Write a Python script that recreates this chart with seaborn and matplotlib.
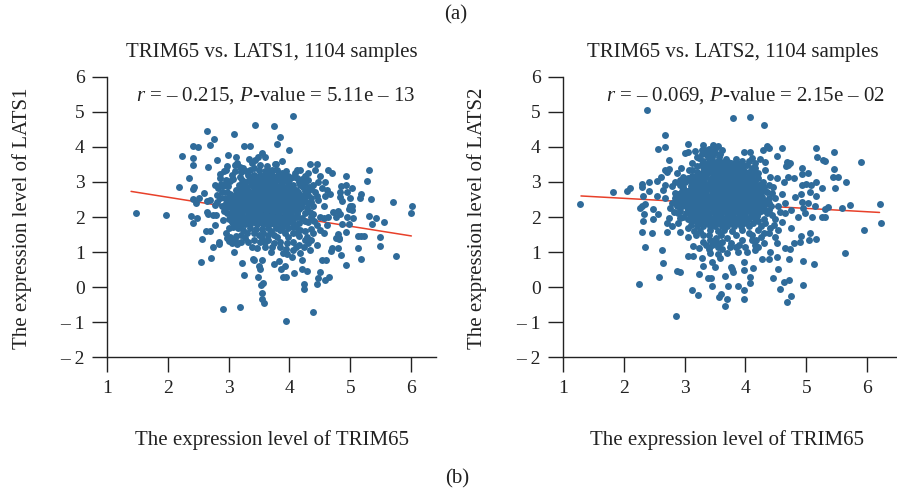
import matplotlib
matplotlib.use("Agg")
import matplotlib.pyplot as plt
import seaborn as sns
import pandas as pd

sns.set_style("ticks")
plt.rcParams["font.family"] = ["Liberation Serif", "DejaVu Serif"]
plt.rcParams["mathtext.fontset"] = "custom"
plt.rcParams["mathtext.it"] = "Liberation Serif:italic"
plt.rcParams["mathtext.rm"] = "Liberation Serif"

DOT = "#2f6b9a"
LINE = "#e8402a"

x_ticks = [1, 2, 3, 4, 5, 6]
y_ticks = [-2, -1, 0, 1, 2, 3, 4, 5, 6]
y_tick_labels = ["– 2", "– 1", "0", "1", "2", "3", "4", "5", "6"]

# (TRIM65, LATS1) estimated sample positions
lats1_outer = [
    (1.48,2.12),(1.97,2.06),(4.06,4.89),(3.43,4.62),(3.74,4.60),(2.64,4.44),(3.09,4.37),(2.76,4.23),
    (3.85,4.27),(3.80,4.08),(2.41,4.03),(2.50,4.00),(2.70,4.05),(3.25,4.01),(3.36,4.03),(3.99,3.91),
    (2.23,3.74),(2.42,3.67),(2.41,3.48),(2.99,3.78),(3.12,3.71),(2.81,3.62),(2.66,3.42),(3.55,3.82),
    (2.55,0.71),(2.71,0.84),(2.91,-0.63),(3.19,-0.56),(4.39,-0.72),(3.94,-0.97),(3.55,-0.18),(3.55,-0.34),
    (3.58,-0.44),(3.53,0.06),(3.57,0.13),(3.48,0.29),(3.25,0.35),(3.22,0.69),(3.40,0.79),(3.42,0.78),
    (3.55,0.78),(3.50,0.61),(3.51,0.53),(3.74,0.67),(3.82,0.75),(3.92,0.60),(3.86,0.53),(3.89,0.29),
    (3.94,0.30),(4.08,0.40),(4.21,0.78),(4.21,0.51),(4.28,0.46),(4.23,0.10),(4.24,-0.05),(4.45,0.09),
    (4.46,0.27),(4.50,0.43),(4.58,0.20),(4.65,0.30),(4.54,0.77),(4.60,0.77),(4.93,0.62),(4.85,0.93),
    (5.17,0.80),(5.12,1.11),(5.75,0.89),(5.49,1.17),(5.48,1.44),(5.13,1.47),(5.17,1.45),(5.22,1.46),
    (4.80,1.13),(4.68,1.03),(4.70,1.13),(4.92,1.57),(5.55,1.86),(5.42,1.96),(5.36,1.81),(5.30,2.04),
    (5.70,2.43),(6.00,2.12),(6.01,2.31),(5.33,2.52),(5.15,2.53),(5.17,2.65),(5.28,3.04),(5.31,3.35),
    (4.93,3.17),(4.70,3.26),(4.63,3.34),(5.02,2.83),(4.93,2.91),(4.84,2.89),(5.00,2.53),
    (5.03,2.31),(4.99,2.31),(4.97,2.22),(5.03,2.20),(4.94,2.01),(5.04,1.96),(4.97,1.80),(4.87,1.80),
    (4.79,2.17),(4.72,2.14),(4.83,2.08),(4.76,2.01),(4.83,2.70),(4.94,2.70),(4.83,2.58),(4.86,2.47),
    (4.79,1.52),(4.81,1.41),(4.76,1.39),(4.82,1.36),
    (2.86,3.23),(2.93,3.30),(2.97,3.44),(2.95,3.35),(3.11,3.48),(3.14,3.53),(3.18,3.42),(3.24,3.39),
    (3.33,3.65),(3.38,3.53),(3.44,3.62),(3.52,3.48),(3.63,3.46),(3.76,3.51),(3.71,3.34),(3.87,3.25),
    (3.98,3.17),(4.12,3.34),(4.17,3.34),(4.09,3.25),(4.25,3.17),(4.31,3.25),(4.42,3.34),(4.50,3.17),
    (4.34,3.51),(4.45,3.50),(3.48,3.70),(3.60,3.70),(3.88,3.60),(3.78,3.50),(3.42,3.40),(3.60,3.30),
    (4.17,2.91),(4.25,2.96),(4.39,2.91),(4.47,3.01),(4.58,3.01),(4.53,2.82),(4.61,2.77),(4.67,2.66),
    (4.58,2.60),(4.42,2.72),(4.31,2.63),(4.20,2.53),(4.36,2.44),(4.47,2.48),(4.57,2.30),(4.28,2.25),
    (4.39,2.09),(4.50,2.01),(4.64,2.01),(4.56,1.96),(4.61,1.77),(4.45,1.77),(4.31,1.87),(4.20,1.96),
    (4.30,3.05),(4.35,2.80),(4.25,2.75),(4.45,2.60),(4.30,2.40),(4.25,2.10),(4.35,2.00),(4.40,1.90),
    (4.17,1.63),(4.28,1.44),(4.39,1.53),(4.50,1.63),(4.57,1.55),(4.45,1.20),(4.34,1.06),(4.24,1.15),
    (4.15,1.20),(4.17,0.97),(4.04,0.87),(3.96,0.95),(3.89,0.97),(4.06,1.06),(3.96,1.25),(3.85,1.15),
    (3.69,1.01),(3.60,1.15),(3.46,1.11),(3.39,1.15),(3.52,1.30),(3.65,1.34),(3.79,1.44),(3.93,1.53),
    (4.06,1.53),(3.57,1.53),(3.41,1.53),(3.27,1.39),(3.14,1.23),(3.09,1.00),(3.00,1.33),(2.84,1.30),
    (2.74,1.15),(2.57,1.38),(2.63,1.59),(2.70,1.59),(2.78,1.77),(2.96,1.53),(3.03,1.44),(3.16,1.68),
    (3.24,1.63),(2.91,1.92),(3.05,1.87),(3.45,1.65),(3.70,1.60),(3.85,1.62),(4.05,1.72),(4.15,1.45),
    (3.75,1.25),(3.55,1.40),(3.32,1.30),(4.05,1.30),(4.30,1.25),(3.05,1.25),(2.98,1.40),(2.85,1.22),
    (2.41,1.82),(2.39,2.04),(2.49,1.97),(2.64,2.15),(2.67,2.09),(2.75,2.07),(2.79,2.07),(2.78,2.35),
    (2.70,2.49),(2.65,2.47),(2.81,2.44),(2.78,2.91),(2.83,2.82),(2.91,2.87),(2.99,2.87),(2.81,2.63),
    (2.94,2.53),(3.02,2.53),(2.89,2.30),(2.97,2.11),(3.05,2.25),(2.86,3.10),(2.96,3.06),(3.05,3.20),
    (3.19,3.15),(2.35,3.10),(2.18,2.86),(2.43,2.85),(2.41,2.79),(2.59,2.68),(2.51,2.53),(2.41,2.50),(2.46,2.41),
]
lats1_mid = [
    (2.88,2.95),(2.95,2.98),(3.02,3.02),(3.08,3.08),(2.90,2.72),(2.98,2.70),(3.02,2.65),(2.86,2.55),
    (2.95,2.40),(3.00,2.36),(2.92,2.18),(2.98,2.28),(3.02,2.10),(3.05,2.00),(3.00,1.95),(3.10,1.90),
    (3.12,1.80),(3.20,1.76),(3.08,1.72),(3.00,1.68),(3.10,3.30),(3.20,3.28),(3.28,3.32),(3.35,3.35),
    (3.50,3.33),(3.68,3.30),(3.80,3.35),(3.95,3.30),(4.05,3.15),(4.12,3.10),(4.20,3.08),(4.15,3.00),
    (4.22,2.85),(4.28,2.70),(4.32,2.85),(4.25,2.60),(4.35,2.55),(4.25,2.45),(4.38,2.30),(4.33,2.15),
    (4.25,1.88),(4.15,1.82),(4.05,1.85),(4.10,1.72),(3.98,1.68),(3.88,1.70),(3.78,1.68),(3.65,1.68),
    (3.55,1.65),(3.35,1.68),(3.30,1.55),(3.50,1.50),(3.65,1.48),(3.75,1.50),(3.98,1.42),(4.12,1.55),
    (4.25,1.60),(4.35,1.65),(3.20,1.50),(3.12,1.45),(3.10,1.35),(3.20,1.30),(3.42,1.35),(3.60,1.28),
    (3.72,1.15),(3.85,1.30),(3.95,1.10),(4.10,1.15),(4.25,1.35),(4.35,1.35),
]
lats1_core = {
    1.80: [3.27,3.36,3.47,3.56,3.66,3.75,3.86,3.95],
    1.87: [3.22,3.31,3.42,3.51,3.61,3.71,3.81,3.91,4.00],
    1.94: [3.17,3.26,3.37,3.46,3.57,3.66,3.77,3.86,3.97,4.05],
    2.01: [3.14,3.24,3.34,3.44,3.54,3.64,3.74,3.84,3.94,4.04,4.12],
    2.08: [3.11,3.21,3.32,3.41,3.52,3.61,3.72,3.81,3.92,4.01,4.12],
    2.15: [3.12,3.22,3.32,3.42,3.52,3.62,3.72,3.82,3.92,4.02,4.12],
    2.22: [3.08,3.17,3.27,3.36,3.47,3.56,3.67,3.76,3.87,3.96,4.07,4.16],
    2.29: [3.10,3.20,3.30,3.40,3.50,3.60,3.70,3.80,3.90,4.00,4.10,4.19],
    2.36: [3.05,3.14,3.24,3.33,3.44,3.53,3.64,3.73,3.84,3.93,4.04,4.13,4.21],
    2.43: [3.10,3.20,3.30,3.40,3.50,3.60,3.70,3.80,3.90,4.00,4.10,4.19],
    2.50: [3.07,3.18,3.27,3.38,3.47,3.58,3.67,3.78,3.87,3.98,4.07,4.18],
    2.57: [3.12,3.22,3.33,3.43,3.53,3.63,3.73,3.83,3.93,4.03,4.13],
    2.64: [3.10,3.19,3.30,3.39,3.50,3.59,3.70,3.79,3.90,3.99,4.10,4.17],
    2.71: [3.15,3.26,3.36,3.46,3.56,3.66,3.76,3.86,3.96,4.06,4.14],
    2.78: [3.12,3.22,3.31,3.42,3.51,3.62,3.71,3.82,3.91,4.02,4.10],
    2.85: [3.20,3.30,3.41,3.51,3.61,3.71,3.81,3.91,4.01],
    2.92: [3.17,3.26,3.37,3.46,3.57,3.66,3.77,3.86,3.97,4.05],
    2.99: [3.27,3.37,3.47,3.57,3.67,3.77,3.87,3.97],
    3.06: [3.22,3.33,3.42,3.53,3.62,3.73,3.82,3.93,4.00],
    3.13: [3.37,3.47,3.57,3.67,3.77,3.87],
    3.20: [3.32,3.41,3.52,3.61,3.72,3.81,3.90],
}

# (TRIM65, LATS2) estimated sample positions
lats2_outer = [
    (1.29,2.38),(1.83,2.71),(2.05,2.75),(2.10,2.82),(2.39,5.04),(3.80,4.83),(4.08,4.86),(4.30,4.61),
    (2.68,4.34),(2.56,3.93),(2.68,3.99),(3.05,4.09),(3.31,4.05),(3.01,3.82),(3.06,3.84),(2.75,3.63),
    (2.75,3.38),(2.71,3.29),(2.68,3.34),(2.61,3.13),(2.55,3.03),(2.42,3.01),(2.30,2.94),(2.30,2.85),
    (2.41,2.75),(2.31,2.60),(2.55,2.60),(2.35,2.37),(2.30,2.30),(2.27,2.27),(2.34,2.08),(2.31,1.90),
    (2.30,1.56),(2.46,1.54),(2.35,1.14),(2.71,1.56),(2.63,1.06),(2.64,0.69),(2.58,0.28),(2.25,0.10),
    (2.86,-0.81),(2.87,0.46),(2.93,0.43),(3.12,-0.08),(3.22,-0.21),(3.23,0.38),(3.38,0.27),(3.43,0.27),
    (3.45,0.02),(3.60,-0.19),(3.57,-0.29),(3.70,-0.34),(3.67,-0.55),(3.98,-0.33),(3.98,-0.09),(3.88,0.04),
    (3.72,0.04),(3.67,0.32),(4.08,0.13),(4.08,0.29),(4.12,0.55),(3.97,0.48),(3.80,0.44),(3.77,0.58),
    (3.78,0.51),(4.45,0.25),(4.53,0.52),(4.63,0.16),(4.71,0.19),(4.57,-0.04),(4.75,-0.25),(4.68,-0.43),
    (4.95,0.05),(5.13,0.65),(4.95,0.74),(4.72,0.81),(5.63,0.96),(5.94,1.62),(6.22,1.83),(6.21,2.37),
    (5.72,2.33),(5.58,2.26),(5.36,2.28),(5.31,2.23),(5.25,1.99),(5.31,2.01),(5.65,2.99),(5.52,3.15),
    (5.43,3.15),(5.45,3.36),(5.47,2.84),(5.26,2.84),(5.16,2.99),(5.89,3.57),(5.45,3.86),(5.15,3.96),
    (5.17,3.72),(5.28,3.62),(5.31,3.60),(4.92,3.39),(5.02,3.25),(4.93,3.23),(4.60,3.98),(4.51,3.74),
    (4.35,4.03),(4.38,3.96),(4.28,3.91),(3.98,3.84),(4.08,3.84),(4.10,3.67),
    (4.68,3.58),(4.73,3.55),(4.66,3.44),(4.69,3.47),(4.70,3.15),(4.80,3.12),(4.51,3.10),(4.64,3.01),
    (4.92,2.90),(4.99,2.94),(5.07,2.92),(5.06,2.71),(5.15,2.61),(4.91,2.66),(4.81,2.56),(4.92,2.44),
    (5.03,2.41),(5.14,2.31),(4.95,2.25),(4.98,2.11),(4.87,2.01),(5.09,2.01),(4.75,2.20),(4.65,2.11),
    (4.60,1.87),(4.75,1.68),(4.53,1.63),(4.91,1.46),(5.06,1.53),(5.04,1.34),(5.15,1.37),(4.89,1.30),
    (4.80,1.27),(4.65,1.13),(4.73,1.09),(4.49,1.44),(4.52,1.25),(4.41,1.01),(4.52,0.87),(4.38,0.80),
    (4.27,0.81),(4.30,1.25),(4.18,1.34),(4.30,1.53),(4.38,1.53),(4.46,1.77),(4.32,1.82),(4.21,1.63),
    (4.10,1.34),(4.02,1.01),(3.97,0.73),(3.88,1.01),(3.94,1.34),(3.77,1.25),(3.69,0.98),(3.58,0.82),
    (3.50,0.58),(3.45,0.73),(3.31,0.61),(3.28,0.82),(3.14,0.89),(3.06,0.89),(3.23,1.11),(3.14,1.18),
    (3.31,1.30),(3.42,0.98),(3.55,1.15),(3.52,1.39),(3.36,1.20),(3.06,1.44),(3.18,1.49),(2.93,1.56),
    (2.79,1.75),(2.71,1.82),(2.90,1.84),(3.06,1.68),(3.40,1.50),(3.60,1.50),(3.70,1.40),(3.85,1.50),
    (4.05,1.55),(3.50,1.25),(3.62,1.10),(3.40,1.10),(3.55,0.95),(3.85,1.15),(4.15,1.05),(4.20,1.15),
    (2.49,1.94),(2.57,2.09),(2.49,2.22),(2.74,1.96),(2.76,2.25),(2.82,2.15),(2.79,2.39),(2.68,2.53),
    (2.64,2.77),(2.68,2.91),(2.79,2.87),(2.85,2.68),(2.93,2.53),(2.93,2.91),(2.87,3.25),(2.94,3.39),
    (2.98,3.15),(2.90,2.11),(2.98,2.01),(2.96,2.30),(3.08,3.34),(2.92,1.98),(2.88,2.45),(2.95,2.75),
    (3.17,3.87),(3.23,3.68),(3.34,3.91),(3.47,4.05),(3.55,4.01),(3.61,3.91),(3.50,3.82),(3.39,3.72),
    (3.66,3.48),(3.77,3.53),(3.94,3.44),(4.02,3.49),(4.16,3.39),(4.24,3.65),(4.32,3.58),(4.21,3.25),
    (4.32,3.34),(4.29,3.01),(4.38,2.91),(4.43,2.68),(4.27,2.58),(4.38,2.39),(4.49,2.53),(4.54,2.30),
    (4.65,2.39),(4.43,2.06),(4.57,2.15),(3.28,3.80),(3.42,3.85),(3.30,3.60),(3.45,3.60),(3.56,3.70),
    (3.68,3.65),(4.40,3.15),(4.45,2.85),(4.60,2.65),(4.38,2.20),(4.48,1.95),(4.30,1.95),(4.35,2.70),
]
lats2_mid = [
    (2.85,3.00),(2.92,3.05),(3.00,3.00),(3.05,3.10),(2.98,2.85),(3.02,2.75),(2.90,2.65),(2.97,2.60),
    (2.85,2.55),(2.95,2.45),(2.88,2.30),(2.92,2.18),(3.02,2.10),(3.05,1.95),(3.12,1.90),(3.20,1.75),
    (3.10,1.78),(3.15,1.60),(3.25,1.60),(3.30,1.50),(3.42,1.62),(3.55,1.60),(3.65,1.62),(3.78,1.60),
    (3.95,1.62),(4.05,1.75),(4.12,1.82),(4.20,1.88),(4.25,1.75),(4.35,2.10),(4.30,2.20),(4.42,2.30),
    (4.38,2.55),(4.33,2.45),(4.32,2.75),(4.30,2.85),(4.25,2.95),(4.20,3.10),(4.15,3.25),(4.10,3.40),
    (3.85,3.65),(3.95,3.60),(4.05,3.60),(4.15,3.55),(3.20,3.45),(3.12,3.55),(3.20,3.70),(3.12,3.35),
    (3.28,3.50),(3.45,3.72),(3.58,3.80),(3.35,3.80),(3.28,3.92),(3.40,3.95),(3.50,3.95),(3.12,3.18),
    (3.50,1.35),(3.62,1.30),(3.75,1.15),(3.58,1.25),(3.42,1.35),(3.45,1.20),(3.90,1.20),(4.00,1.15),
    (4.15,1.20),(4.25,1.42),(4.40,1.70),(4.10,1.50),
]
lats2_core = {
    1.75: [3.30,3.41,3.50,3.61,3.70,3.81,3.92],
    1.82: [3.25,3.36,3.46,3.56,3.66,3.76,3.86,3.97],
    1.89: [3.20,3.31,3.40,3.51,3.60,3.71,3.80,3.91,4.03],
    1.96: [3.15,3.25,3.36,3.46,3.56,3.66,3.76,3.86,3.96,4.06,4.15],
    2.03: [3.10,3.20,3.31,3.40,3.51,3.60,3.71,3.80,3.91,4.00,4.11,4.19],
    2.10: [3.10,3.20,3.30,3.40,3.50,3.60,3.70,3.80,3.90,4.00,4.10,4.20],
    2.17: [3.05,3.15,3.26,3.35,3.46,3.55,3.66,3.75,3.86,3.95,4.06,4.15,4.25],
    2.24: [3.06,3.16,3.26,3.36,3.46,3.56,3.66,3.76,3.86,3.96,4.06,4.16,4.26],
    2.31: [3.02,3.11,3.21,3.30,3.41,3.50,3.61,3.70,3.81,3.90,4.01,4.10,4.21,4.30],
    2.38: [3.05,3.15,3.25,3.35,3.45,3.55,3.65,3.75,3.85,3.95,4.05,4.15,4.25],
    2.45: [3.00,3.10,3.20,3.31,3.40,3.51,3.60,3.71,3.80,3.91,4.00,4.11,4.20,4.30],
    2.52: [3.05,3.15,3.25,3.35,3.45,3.55,3.65,3.75,3.85,3.95,4.05,4.15,4.25],
    2.59: [3.02,3.11,3.21,3.30,3.41,3.50,3.61,3.70,3.81,3.90,4.01,4.10,4.21],
    2.66: [3.07,3.16,3.26,3.36,3.46,3.56,3.66,3.76,3.86,3.96,4.06,4.16,4.24],
    2.73: [3.05,3.15,3.26,3.35,3.46,3.55,3.66,3.75,3.86,3.95,4.06,4.15,4.25],
    2.80: [3.10,3.21,3.31,3.41,3.51,3.61,3.71,3.81,3.91,4.01,4.11,4.20],
    2.87: [3.10,3.20,3.31,3.40,3.51,3.60,3.71,3.80,3.91,4.00,4.11,4.20],
    2.94: [3.15,3.26,3.36,3.46,3.56,3.66,3.76,3.86,3.96,4.06,4.15],
    3.01: [3.10,3.21,3.30,3.41,3.50,3.61,3.70,3.81,3.90,4.01,4.10,4.16],
    3.08: [3.20,3.31,3.41,3.51,3.61,3.71,3.81,3.91,4.01,4.10],
    3.15: [3.15,3.26,3.35,3.46,3.55,3.66,3.75,3.86,3.95,4.06,4.11],
    3.22: [3.25,3.36,3.46,3.56,3.66,3.76,3.86,3.96,4.05],
    3.29: [3.20,3.31,3.40,3.51,3.60,3.71,3.80,3.91,4.00,4.06],
    3.36: [3.35,3.46,3.56,3.66,3.76,3.86,3.96],
    3.43: [3.30,3.41,3.50,3.61,3.70,3.81,3.92],
    3.50: [3.36,3.46,3.56,3.66,3.77,3.88],
    3.57: [3.40,3.51,3.60,3.72,3.84],
}

line1_x, line1_y = [1.40, 6.00], [2.73, 1.46]
line2_x, line2_y = [1.30, 6.20], [2.60, 2.13]

titles = ["TRIM65 vs. LATS1, 1104 samples", "TRIM65 vs. LATS2, 1104 samples"]
ylabels = ["The expression level of LATS1", "The expression level of LATS2"]
xlabel = "The expression level of TRIM65"
stats = [r"$\mathit{r}$ = – 0.215, $\mathit{P}$-value = 5.11e – 13",
         r"$\mathit{r}$ = – 0.069, $\mathit{P}$-value = 2.15e – 02"]


def frame(outer, mid, core):
    pts = list(outer) + list(mid) + [(x, y) for y, xs in core.items() for x in xs]
    return pd.DataFrame(pts, columns=["trim65", "expr"])


W, H = 897, 496
fig = plt.figure(figsize=(W / 100, H / 100), dpi=100)
TOP, BOTTOM = 76.7, 357.3


def make_axes(left, right):
    return fig.add_axes([left / W, 1 - BOTTOM / H, (right - left) / W, (BOTTOM - TOP) / H])


panels = [
    (make_axes(106.7, 436), 106.7, 436, lats1_outer, lats1_mid, lats1_core, line1_x, line1_y, 136, 271.5, 271.5, 22),
    (make_axes(562.7, 896), 562.7, 896, lats2_outer, lats2_mid, lats2_core, line2_x, line2_y, 606, 733, 726.5, 477.5),
]
for i, (ax, l, r, outer, mid, core, lx, ly, stat_px, title_px, xlab_px, ylab_px) in enumerate(panels):
    sns.lineplot(x=lx, y=ly, ax=ax, color=LINE, linewidth=1.1, zorder=1)
    sns.scatterplot(data=frame(outer, mid, core), x="trim65", y="expr", ax=ax, color=DOT,
                    s=25, linewidth=0, zorder=2, clip_on=False)
    ax.set_xlim(1, 1 + (r - l) / 60.93)
    ax.set_ylim(-2, 6)
    ax.set_xticks(x_ticks)
    ax.set_yticks(y_ticks)
    ax.set_yticklabels(y_tick_labels)
    ax.tick_params(axis="both", direction="out", length=10.8, width=1, labelsize=14, color="#222222",
                   labelcolor="#222222")
    ax.tick_params(axis="x", pad=5.5)
    ax.tick_params(axis="y", pad=5)
    for s in ("top", "right"):
        ax.spines[s].set_visible(False)
    for s in ("left", "bottom"):
        ax.spines[s].set_linewidth(1)
        ax.spines[s].set_color("#222222")
    ax.set_xlabel(xlabel, fontsize=15, color="#222222", va="center")
    ax.xaxis.set_label_coords((xlab_px - l) / (r - l), -(440 - BOTTOM) / (BOTTOM - TOP))
    ax.set_ylabel(ylabels[i], fontsize=15, color="#222222", va="center")
    ax.yaxis.set_label_coords((ylab_px - l) / (r - l), (BOTTOM - 218) / (BOTTOM - TOP))
    fig.text(title_px / W, 1 - 53 / H, titles[i], fontsize=15, ha="center", va="center", color="#222222")
    fig.text(stat_px / W, 1 - 96 / H, stats[i], fontsize=15, ha="left", va="center", color="#222222")

fig.text(456 / W, 1 - 15 / H, "(a)", fontsize=15, ha="center", va="center", color="#222222")
fig.text(457 / W, 1 - 479 / H, "(b)", fontsize=15, ha="center", va="center", color="#222222")

fig.savefig("out.png", dpi=100)
